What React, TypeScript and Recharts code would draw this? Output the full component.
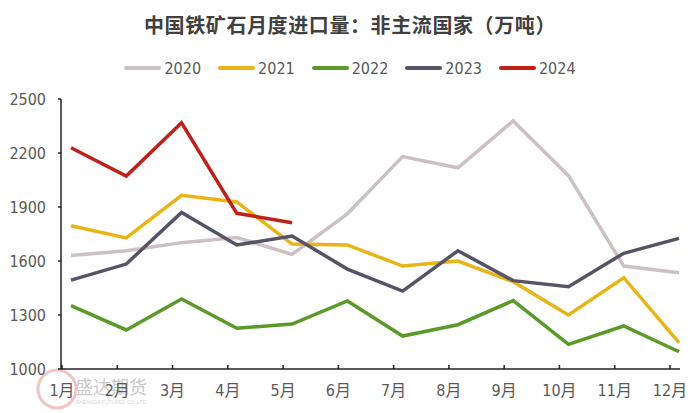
import React from 'react';
import { LineChart, Line, XAxis, YAxis } from 'recharts';

const months = ['1月', '2月', '3月', '4月', '5月', '6月', '7月', '8月', '9月', '10月', '11月', '12月'];
const s2020 = [1630, 1657, 1702, 1730, 1637, 1862, 2180, 2118, 2378, 2074, 1572, 1535];
const s2021 = [1796, 1728, 1965, 1928, 1694, 1689, 1572, 1600, 1485, 1300, 1507, 1146];
const s2022 = [1352, 1217, 1389, 1226, 1250, 1378, 1183, 1246, 1380, 1137, 1239, 1096];
const s2023 = [1494, 1583, 1870, 1689, 1739, 1555, 1433, 1657, 1491, 1457, 1643, 1726];
const s2024 = [2229, 2072, 2368, 1865, 1813];
const yTicks = [1000, 1300, 1600, 1900, 2200, 2500];
const title = '中国铁矿石月度进口量：非主流国家（万吨）';

const seriesList = [
  { key: 'y2020', name: '2020', color: '#CBC1C4', values: s2020 },
  { key: 'y2021', name: '2021', color: '#E8B416', values: s2021 },
  { key: 'y2022', name: '2022', color: '#5A992A', values: s2022 },
  { key: 'y2023', name: '2023', color: '#545466', values: s2023 },
  { key: 'y2024', name: '2024', color: '#C0201A', values: s2024 },
];

const data = months.map((m, i) => {
  const row: any = { month: m };
  seriesList.forEach((s) => {
    if (i < s.values.length) row[s.key] = s.values[i];
  });
  return row;
});

const FONT = "'Liberation Sans Narrow', 'DejaVu Sans Condensed', 'Noto Sans CJK SC', sans-serif";

const XTick = (props: any) => {
  const { x, y, payload } = props;
  const tx = x - 9;
  return (
    <g>
      <line x1={tx} y1={y} x2={tx} y2={y - 4} stroke="#222" strokeWidth={1.5} />
      <text x={tx} y={y + 27} textAnchor="middle" fill="#595959" fontSize={16} fontFamily={FONT}>
        {payload.value}
      </text>
    </g>
  );
};

export default function App() {
  return (
    <div style={{ position: 'absolute', left: 0, top: 0, width: 700, height: 413, background: '#fff', overflow: 'hidden' }}>
      <svg width={700} height={413} style={{ position: 'absolute', left: 0, top: 0 }}>
        <circle cx={57} cy={389} r={19} fill="none" stroke="#F2C4C4" strokeWidth={3} />
        <text x={75} y={394} fill="#C9C9C9" fontSize={18} fontFamily="'Noto Sans CJK SC', sans-serif">盛达期货</text>
        <text x={76} y={404} fill="#D6D6D6" fontSize={5} fontFamily="sans-serif">SHENGDA FUTURES CO.,LTD.</text>
      </svg>
      <div
        style={{
          position: 'absolute', top: 12, left: 0, width: 700, textAlign: 'center',
          fontFamily: "'Noto Sans CJK SC', sans-serif", fontWeight: 700, fontSize: 20,
          color: '#404040', lineHeight: '26px', letterSpacing: 0.6,
        }}
      >
        {title}
      </div>
      <div
        style={{
          position: 'absolute', top: 57, left: 0, width: 700, display: 'flex',
          justifyContent: 'center', alignItems: 'center', height: 22,
        }}
      >
        {seriesList.map((s, i) => (
          <div key={s.key} style={{ display: 'flex', alignItems: 'center', marginLeft: i === 0 ? 0 : 17 }}>
            <div style={{ width: 37, height: 4, borderRadius: 2, background: s.color }} />
            <span style={{ marginLeft: 3, fontFamily: FONT, fontSize: 16, color: '#595959' }}>{s.name}</span>
          </div>
        ))}
      </div>
      <div style={{ position: 'absolute', left: 0, top: 0 }}>
        <LineChart width={700} height={413} data={data} margin={{ top: 99, right: 20, bottom: 0, left: 11 }}>
          <XAxis
            dataKey="month"
            padding={{ left: 10, right: 1 }}
            axisLine={{ stroke: '#222', strokeWidth: 1.5 }}
            tickLine={false}
            tickSize={0}
            tickMargin={0}
            tick={<XTick />}
            interval={0}
            height={44}
          />
          <YAxis
            domain={[1000, 2500]}
            ticks={yTicks}
            width={50}
            axisLine={{ stroke: '#222', strokeWidth: 1.5 }}
            tickLine={{ stroke: '#222', strokeWidth: 1.5 }}
            tickSize={3}
            tickMargin={12}
            tick={{ fill: '#595959', fontSize: 16, fontFamily: FONT }}
            interval={0}
          />
          {seriesList.map((s) => (
            <Line
              key={s.key}
              dataKey={s.key}
              name={s.name}
              stroke={s.color}
              strokeWidth={3.5}
              dot={false}
              activeDot={false}
              type="linear"
              isAnimationActive={false}
              connectNulls={false}
            />
          ))}
        </LineChart>
      </div>
    </div>
  );
}
